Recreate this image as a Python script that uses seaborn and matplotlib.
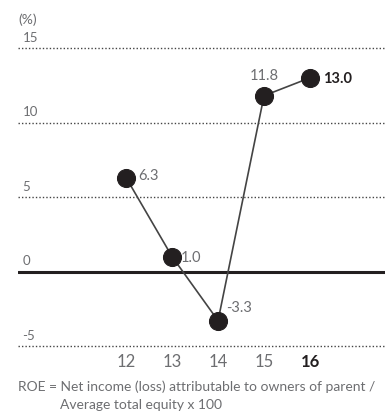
import matplotlib
matplotlib.use("Agg")
import matplotlib.pyplot as plt
import seaborn as sns
import pandas as pd

# Return on equity by fiscal year
years = [12, 13, 14, 15, 16]
year_labels = ["12", "13", "14", "15", "16"]
roe = [6.3, 1.0, -3.3, 11.8, 13.0]
grid_values = [15, 10, 5, -5]
unit_label = "(%)"
footnote = ["ROE = Net income (loss) attributable to owners of parent /",
            "Average total equity x 100"]

sns.set_theme(style="white")
plt.rcParams["font.family"] = ["Lato", "DejaVu Sans"]

df = pd.DataFrame({"year": years, "roe": roe})

fig = plt.figure(figsize=(3.85, 4.14), dpi=100)
ax = fig.add_axes([18 / 385, 67 / 414, 1 - 18 / 385, 298 / 414])

ink = "#231f20"
grey = "#6d6e71"

# dotted reference lines and a solid zero line
for v in grid_values:
    ax.axhline(v, color="#444444", lw=1.0, ls=(0, (1, 1.5)), zorder=1, clip_on=False)
    ax.text(0.012, v + 0.35, str(v), transform=ax.get_yaxis_transform(),
            fontsize=9.5, color=grey, ha="left", va="bottom")
ax.axhline(0, color=ink, lw=2.2, zorder=1)
ax.text(0.012, 0.35, "0", transform=ax.get_yaxis_transform(),
        fontsize=9.5, color=grey, ha="left", va="bottom")

sns.lineplot(data=df, x="year", y="roe", ax=ax, color="#444444", lw=1.2,
             marker="o", markersize=13, markerfacecolor=ink,
             markeredgecolor=ink, zorder=3)

# value labels
offsets = {
    12: (9, 2, "left", "center", "normal"),
    13: (6, 0, "left", "center", "normal"),
    14: (6, 10, "left", "center", "normal"),
    15: (0, 15, "center", "center", "normal"),
    16: (9, 0, "left", "center", "bold"),
}
for x, y in zip(years, roe):
    dx, dy, ha, va, w = offsets[x]
    ax.annotate(f"{y:.1f}", (x, y), xytext=(dx, dy), textcoords="offset points",
                ha=ha, va=va, fontsize=10.5, fontweight=w,
                color=ink if w == "bold" else grey, zorder=4)

ax.set_xlim(9.65, 17.63)
ax.set_ylim(-5, 15)
ax.set_xticks(years)
ax.set_xticklabels(year_labels)
ax.tick_params(axis="x", length=0, pad=5, labelsize=12, labelcolor=grey)
ax.get_xticklabels()[-1].set_fontweight("bold")
ax.get_xticklabels()[-1].set_color(ink)
ax.set_yticks([])
ax.set_xlabel("")
ax.set_ylabel("")
for s in ax.spines.values():
    s.set_visible(False)

fig.text(18 / 385, 1 - 20 / 414, unit_label, fontsize=10, color=grey, va="center")
fig.text(18 / 385, 1 - 387 / 414, footnote[0], fontsize=10, color=grey, va="center")
fig.text(60 / 385, 1 - 405 / 414, footnote[1], fontsize=10, color=grey, va="center")

fig.savefig("out.png", dpi=100)
